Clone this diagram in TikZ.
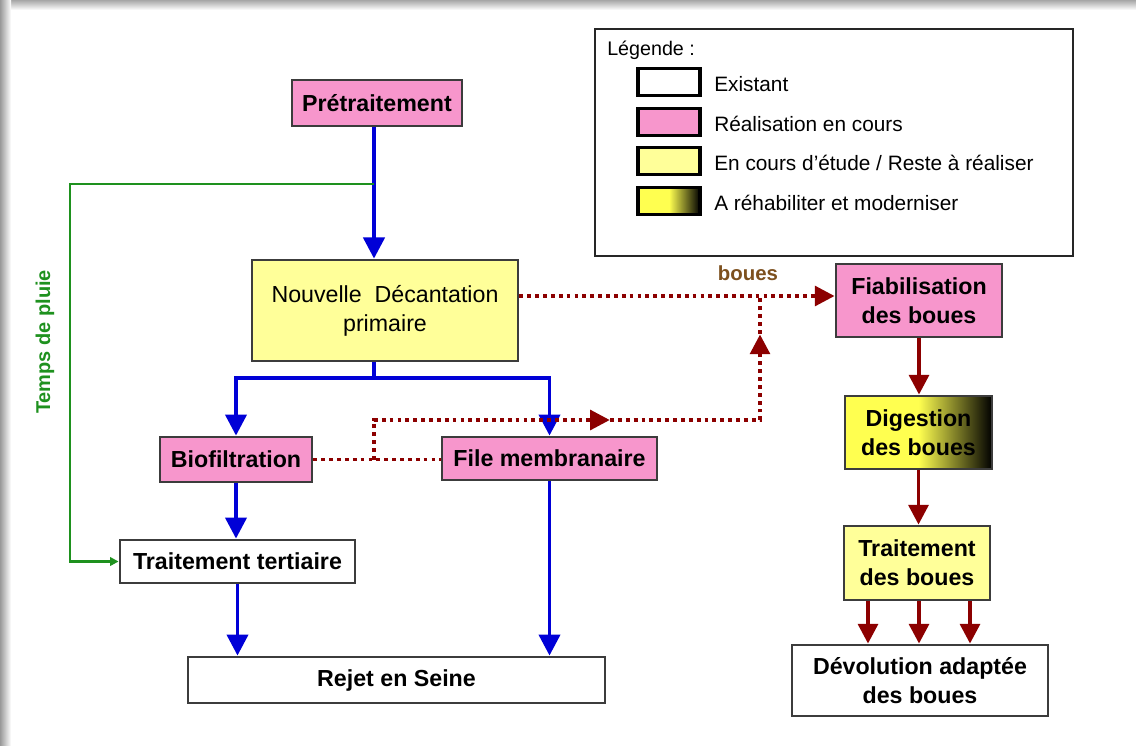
\documentclass[tikz,border=0pt]{standalone}
\usepackage{fontspec}
\setmainfont{Liberation Sans}
\usetikzlibrary{arrows.meta, decorations.markings}
\definecolor{rose}{RGB}{247,150,204}
\definecolor{jaune}{RGB}{255,255,153}
\definecolor{jaunevif}{RGB}{255,255,80}
\definecolor{bord}{RGB}{60,60,60}
\definecolor{bleu}{RGB}{0,0,215}
\definecolor{bordeaux}{RGB}{140,0,0}
\definecolor{vert}{RGB}{30,145,30}
\definecolor{brun}{RGB}{125,80,30}

\begin{document}
\begin{tikzpicture}[x=0.025cm, y=-0.025cm,
    every node/.style={font=\fontsize{16.5}{20.5}\selectfont\bfseries, align=center, inner sep=0pt},
    etape/.style={draw=bord, line width=2pt},
    pinkbox/.style={etape, fill=rose},
    yellowbox/.style={etape, fill=jaune},
    whitebox/.style={etape, fill=white},
    rehab/.style={etape, left color=jaunevif, right color=black, middle color=jaunevif},
    swatch/.style={line width=2.4pt, draw=black, minimum width=1.55cm, minimum height=0.675cm},
    legtext/.style={font=\fontsize{14.8}{17}\selectfont, anchor=west},
    flow/.style={draw=bleu, line width=2.8pt, -{Triangle[width=15pt,length=15pt]}},
    flowline/.style={draw=bleu, line width=2.8pt},
    sludge/.style={draw=bordeaux, line width=2.8pt, -{Triangle[width=14pt,length=14pt]}},
    boue/.style={draw=bordeaux, line width=2.7pt, dash pattern=on 2.7pt off 2.9pt},
    rain/.style={draw=vert, line width=1.7pt, -{Triangle[width=6pt,length=6pt]}}]

    \useasboundingbox (0,0) rectangle (1136,745);

    % Frame
    \fill[white] (0,0) rectangle (1136,745);
    \shade[top color=black!35, bottom color=white] (0,0) rectangle (1136,10);
    \shade[left color=black!40, right color=white] (0,0) rectangle (11,745);

    % Water line
    \node[pinkbox, minimum width=4.25cm, minimum height=1.15cm] (pretrait) at (377,103) {Prétraitement};
    \node[yellowbox, minimum width=6.65cm, minimum height=2.525cm, font=\fontsize{16.5}{20.5}\selectfont] (decant) at (385,310.5)
        {Nouvelle\ \ Décantation\\primaire};
    \node[pinkbox, minimum width=3.8cm, minimum height=1.125cm] (biofilt) at (236,459.5) {Biofiltration};
    \node[pinkbox, minimum width=5.375cm, minimum height=1.075cm] (membrane) at (549.5,458.5) {File membranaire};
    \node[whitebox, minimum width=5.875cm, minimum height=1.075cm] (tertiaire) at (237.5,561.5) {Traitement tertiaire};
    \node[whitebox, minimum width=10.425cm, minimum height=1.15cm] (rejet) at (396.5,680) {Rejet en Seine};

    % Sludge line
    \node[pinkbox, minimum width=4.15cm, minimum height=1.825cm] (fiab) at (919,300.5) {Fiabilisation\\des boues};
    \node[rehab, minimum width=3.675cm, minimum height=1.825cm] (digest) at (918.5,432.5) {Digestion\\des boues};
    \node[yellowbox, minimum width=3.65cm, minimum height=1.85cm] (traitb) at (917,563) {Traitement\\des boues};
    \node[whitebox, minimum width=6.4cm, minimum height=1.775cm] (devol) at (920,680.5) {Dévolution adaptée\\des boues};

    % Legend
    \node[draw=black!85, line width=1.6pt, minimum width=11.95cm, minimum height=5.675cm] (legende) at (834,142.5) {};
    \node[legtext, font=\fontsize{14}{17}\selectfont] (legtitre) at (607,50) {Légende :};
    \foreach \yy/\sty/\txt [count=\i] in {82/whitebox/Existant, 122/pinkbox/Réalisation en cours,
        161/yellowbox/{En cours d'étude / Reste à réaliser}, 201/rehab/A réhabiliter et moderniser} {
        \node[\sty, swatch] (swatch\i) at (669,\yy) {};
        \node[legtext] (leg\i) at (714,\yy+2) {\txt};
    }

    % Blue flows
    \coordinate (fork) at (374,378);
    \coordinate (pluie) at (374,184);
    \coordinate (pluiecoin) at (70,184);
    \draw[flow] (pretrait.south -| fork) -- (decant.north -| fork);
    \draw[flowline] (decant.south -| fork) -- (fork);
    \draw[flow] (fork) -| (biofilt.north);
    \draw[flow] (fork) -| (membrane.north);
    \draw[flow] (biofilt.south) -- (biofilt.south |- tertiaire.north);
    \draw[flow] (tertiaire.south) -- (tertiaire.south |- rejet.north);
    \draw[flow] (membrane.south) -- (membrane.south |- rejet.north);

    % Rain bypass
    \draw[rain] (pluie) -- (pluiecoin) |- (tertiaire.west);
    \node[rotate=90, text=vert, font=\fontsize{14.2}{17}\selectfont\bfseries] (pluietxt) at (45,342) {Temps de pluie};

    % Sludge flows
    \coordinate (jonction) at (760,296);
    \coordinate (retourcoin) at (760,420);
    \draw[boue, -{Triangle[width=14pt,length=14pt]}] (decant.east |- jonction) -- (fiab.west |- jonction);
    \node[font=\fontsize{14.5}{17}\selectfont\bfseries, text=brun] (lblboues) at (748,273) {boues};
    \draw[boue] (biofilt.east) -- (biofilt.east -| membrane.west);
    \draw[boue, postaction={decorate}, decoration={markings,
        mark=at position 0.501 with {\arrow{Triangle[width=14pt,length=14pt]}},
        mark=at position 0.93 with {\arrow{Triangle[width=14pt,length=14pt]}}}]
        (biofilt.east -| fork) |- (retourcoin) -- (jonction);
    \draw[sludge] (fiab.south) -- (fiab.south |- digest.north);
    \draw[sludge] (digest.south) -- (digest.south |- traitb.north);
    \foreach \xx in {868,919,970}
        \draw[sludge] (traitb.south -| \xx,0) -- (devol.north -| \xx,0);
\end{tikzpicture}
\end{document}
